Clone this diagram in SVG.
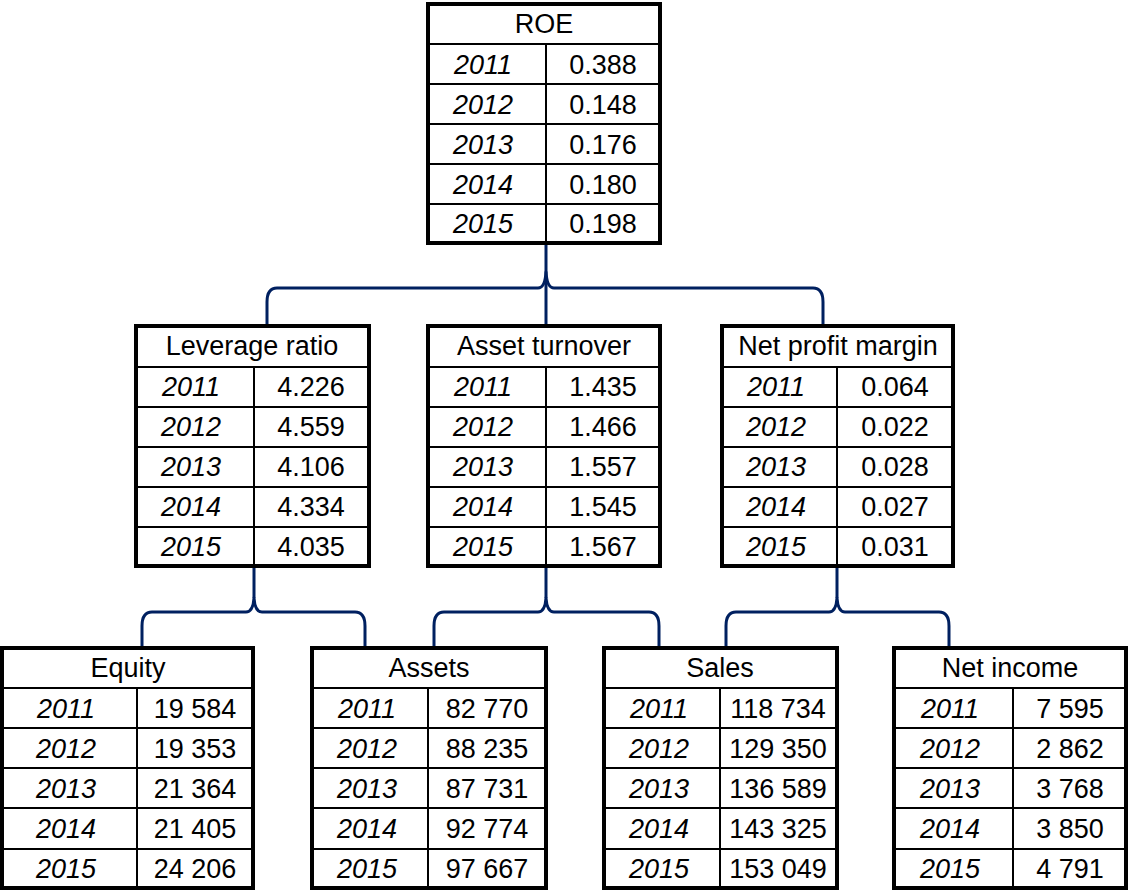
<svg xmlns="http://www.w3.org/2000/svg" width="1128" height="890" viewBox="0 0 1128 890">
  <style>
    text { font-family: "Liberation Sans", Arial, sans-serif; font-size: 27px; fill: #000; text-anchor: middle; }
    .yr { font-style: italic; }
    .frame { fill: #fff; stroke: #000; stroke-width: 4; }
    .grid { stroke: #000; stroke-width: 2; fill: none; }
    .brace { fill: none; stroke: #002060; stroke-width: 3; stroke-linejoin: round; }
  </style>
  <rect width="1128" height="890" fill="#fff"/>

  <!-- connectors: curly braces from each ratio to its components -->
  <g id="connectors">
    <line class="brace" x1="546" y1="243" x2="546" y2="326"/>
    <path class="brace" d="M267,324 L267,302 Q267,288 277,288 L538,288 Q545,288 546,272 Q547,288 554,288 L813,288 Q823,288 823,302 L823,324"/>
    <line class="brace" x1="254" y1="566" x2="254" y2="598"/>
    <path class="brace" d="M142,648 L142,626 Q142,612 152,612 L246,612 Q253,612 254,598 Q255,612 262,612 L355,612 Q365,612 365,626 L365,648"/>
    <line class="brace" x1="546" y1="566" x2="546" y2="598"/>
    <path class="brace" d="M434,648 L434,626 Q434,612 444,612 L538,612 Q545,612 546,598 Q547,612 554,612 L649,612 Q659,612 659,626 L659,648"/>
    <line class="brace" x1="837" y1="566" x2="837" y2="598"/>
    <path class="brace" d="M726,648 L726,626 Q726,612 736,612 L829,612 Q836,612 837,598 Q838,612 845,612 L939,612 Q949,612 949,626 L949,648"/>
  </g>

  <!-- top level -->
  <g id="roe">
    <rect class="frame" x="428" y="4" width="232" height="239"/>
    <path class="grid" d="M428,44H660M428,84H660M428,124H660M428,164H660M428,204H660M546,44V243"/>
    <text x="544" y="33">ROE</text>
    <text class="yr" x="483" y="74">2011</text><text x="603" y="74">0.388</text>
    <text class="yr" x="483" y="114">2012</text><text x="603" y="114">0.148</text>
    <text class="yr" x="483" y="154">2013</text><text x="603" y="154">0.176</text>
    <text class="yr" x="483" y="194">2014</text><text x="603" y="194">0.180</text>
    <text class="yr" x="483" y="233">2015</text><text x="603" y="233">0.198</text>
  </g>

  <!-- second level -->
  <g id="leverage-ratio">
    <rect class="frame" x="136" y="326" width="233" height="240"/>
    <path class="grid" d="M136,367H369M136,407H369M136,447H369M136,487H369M136,527H369M254,367V566"/>
    <text x="252" y="355">Leverage ratio</text>
    <text class="yr" x="191" y="396">2011</text><text x="311" y="396">4.226</text>
    <text class="yr" x="191" y="436">2012</text><text x="311" y="436">4.559</text>
    <text class="yr" x="191" y="476">2013</text><text x="311" y="476">4.106</text>
    <text class="yr" x="191" y="516">2014</text><text x="311" y="516">4.334</text>
    <text class="yr" x="191" y="556">2015</text><text x="311" y="556">4.035</text>
  </g>

  <g id="asset-turnover">
    <rect class="frame" x="428" y="326" width="232" height="240"/>
    <path class="grid" d="M428,367H660M428,407H660M428,447H660M428,487H660M428,527H660M546,367V566"/>
    <text x="544" y="355">Asset turnover</text>
    <text class="yr" x="483" y="396">2011</text><text x="603" y="396">1.435</text>
    <text class="yr" x="483" y="436">2012</text><text x="603" y="436">1.466</text>
    <text class="yr" x="483" y="476">2013</text><text x="603" y="476">1.557</text>
    <text class="yr" x="483" y="516">2014</text><text x="603" y="516">1.545</text>
    <text class="yr" x="483" y="556">2015</text><text x="603" y="556">1.567</text>
  </g>

  <g id="net-profit-margin">
    <rect class="frame" x="722" y="326" width="231" height="240"/>
    <path class="grid" d="M722,367H953M722,407H953M722,447H953M722,487H953M722,527H953M837,367V566"/>
    <text x="838" y="355">Net profit margin</text>
    <text class="yr" x="776" y="396">2011</text><text x="895" y="396">0.064</text>
    <text class="yr" x="776" y="436">2012</text><text x="895" y="436">0.022</text>
    <text class="yr" x="776" y="476">2013</text><text x="895" y="476">0.028</text>
    <text class="yr" x="776" y="516">2014</text><text x="895" y="516">0.027</text>
    <text class="yr" x="776" y="556">2015</text><text x="895" y="556">0.031</text>
  </g>

  <!-- third level -->
  <g id="equity">
    <rect class="frame" x="2" y="648" width="251" height="240"/>
    <path class="grid" d="M2,688H253M2,728H253M2,768H253M2,808H253M2,849H253M137,688V888"/>
    <text x="128" y="677">Equity</text>
    <text class="yr" x="66" y="718">2011</text><text x="195" y="718">19 584</text>
    <text class="yr" x="66" y="758">2012</text><text x="195" y="758">19 353</text>
    <text class="yr" x="66" y="798">2013</text><text x="195" y="798">21 364</text>
    <text class="yr" x="66" y="838">2014</text><text x="195" y="838">21 405</text>
    <text class="yr" x="66" y="878">2015</text><text x="195" y="878">24 206</text>
  </g>

  <g id="assets">
    <rect class="frame" x="312" y="648" width="234" height="240"/>
    <path class="grid" d="M312,688H546M312,728H546M312,768H546M312,808H546M312,849H546M428,688V888"/>
    <text x="429" y="677">Assets</text>
    <text class="yr" x="367" y="718">2011</text><text x="487" y="718">82 770</text>
    <text class="yr" x="367" y="758">2012</text><text x="487" y="758">88 235</text>
    <text class="yr" x="367" y="798">2013</text><text x="487" y="798">87 731</text>
    <text class="yr" x="367" y="838">2014</text><text x="487" y="838">92 774</text>
    <text class="yr" x="367" y="878">2015</text><text x="487" y="878">97 667</text>
  </g>

  <g id="sales">
    <rect class="frame" x="604" y="648" width="233" height="240"/>
    <path class="grid" d="M604,688H837M604,728H837M604,768H837M604,808H837M604,849H837M720,688V888"/>
    <text x="720" y="677">Sales</text>
    <text class="yr" x="659" y="718">2011</text><text x="778" y="718">118 734</text>
    <text class="yr" x="659" y="758">2012</text><text x="778" y="758">129 350</text>
    <text class="yr" x="659" y="798">2013</text><text x="778" y="798">136 589</text>
    <text class="yr" x="659" y="838">2014</text><text x="778" y="838">143 325</text>
    <text class="yr" x="659" y="878">2015</text><text x="778" y="878">153 049</text>
  </g>

  <g id="net-income">
    <rect class="frame" x="894" y="648" width="232" height="240"/>
    <path class="grid" d="M894,688H1126M894,728H1126M894,768H1126M894,808H1126M894,849H1126M1013,688V888"/>
    <text x="1010" y="677">Net income</text>
    <text class="yr" x="950" y="718">2011</text><text x="1070" y="718">7 595</text>
    <text class="yr" x="950" y="758">2012</text><text x="1070" y="758">2 862</text>
    <text class="yr" x="950" y="798">2013</text><text x="1070" y="798">3 768</text>
    <text class="yr" x="950" y="838">2014</text><text x="1070" y="838">3 850</text>
    <text class="yr" x="950" y="878">2015</text><text x="1070" y="878">4 791</text>
  </g>
</svg>
